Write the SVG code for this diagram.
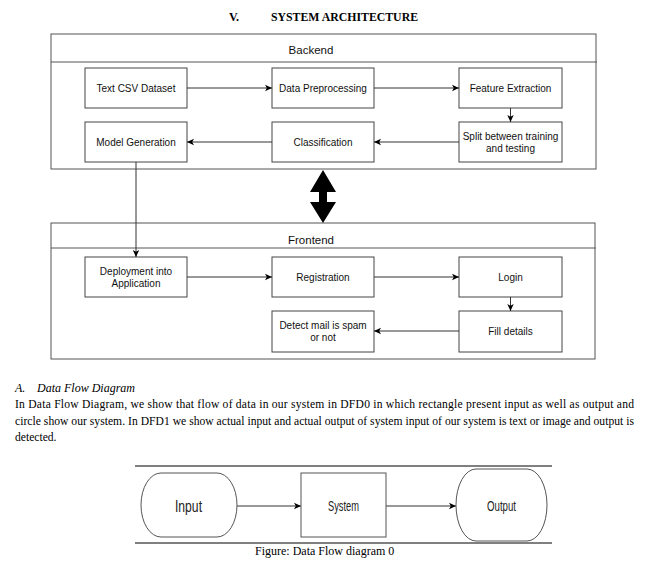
<svg xmlns="http://www.w3.org/2000/svg" width="648" height="566" viewBox="0 0 648 566">
<style>
.bg{fill:#fff}
.cont{fill:none;stroke:#555;stroke-width:1}
.node{fill:#fff;stroke:#444;stroke-width:1}
.lbl{font-family:"Liberation Sans",Arial,sans-serif;font-size:10px;fill:#111;text-anchor:middle}
.hdr{font-family:"Liberation Sans",Arial,sans-serif;font-size:11.5px;fill:#111;text-anchor:middle}
.edge{fill:none;stroke:#333;stroke-width:1}
.serif{font-family:"Liberation Serif","Times New Roman",serif;fill:#000}
.dfd{fill:#fff;stroke:#555;stroke-width:1}
.dlbl{font-family:"Liberation Sans",Arial,sans-serif;fill:#222;text-anchor:middle}
</style>
<defs>
<marker id="arr" markerUnits="userSpaceOnUse" markerWidth="8" markerHeight="8" refX="7" refY="4" orient="auto">
<path d="M0,0.8 L7,4 L0,7.2 L1.8,4 Z" fill="#000"/>
</marker>
</defs>
<rect class="bg" x="0" y="0" width="648" height="566"/>

<g id="title">
<text class="serif" x="229" y="21" font-size="12" font-weight="bold">V.</text>
<text class="serif" x="271" y="21" font-size="12" font-weight="bold" textLength="147" lengthAdjust="spacingAndGlyphs">SYSTEM ARCHITECTURE</text>
</g>

<g id="backend">
<rect class="cont" x="51" y="34" width="545" height="135"/>
<line class="cont" x1="51" y1="62" x2="597" y2="62"/>
<text class="hdr" x="311" y="54">Backend</text>
</g>

<g id="frontend">
<rect class="cont" x="51" y="223" width="544" height="136"/>
<line class="cont" x1="51" y1="248" x2="596" y2="248"/>
<text class="hdr" x="311" y="244">Frontend</text>
</g>

<g id="n-textcsv"><rect class="node" x="85" y="68" width="102" height="40"/><text class="lbl" x="136" y="91.5">Text CSV Dataset</text></g>
<g id="n-preproc"><rect class="node" x="272" y="68" width="102" height="40"/><text class="lbl" x="323" y="91.5">Data Preprocessing</text></g>
<g id="n-feature"><rect class="node" x="459" y="68" width="103" height="40"/><text class="lbl" x="510.5" y="91.5">Feature Extraction</text></g>
<g id="n-model"><rect class="node" x="85" y="122" width="102" height="40"/><text class="lbl" x="136" y="145.5">Model Generation</text></g>
<g id="n-class"><rect class="node" x="272" y="122" width="102" height="40"/><text class="lbl" x="323" y="145.5">Classification</text></g>
<g id="n-split"><rect class="node" x="459" y="122" width="103" height="40"/><text class="lbl" x="510.5" y="139.5">Split between training</text><text class="lbl" x="510.5" y="151.5">and testing</text></g>

<g id="n-deploy"><rect class="node" x="85" y="257" width="102" height="40"/><text class="lbl" x="136" y="274.5">Deployment into</text><text class="lbl" x="136" y="286.5">Application</text></g>
<g id="n-reg"><rect class="node" x="272" y="257" width="102" height="40"/><text class="lbl" x="323" y="280.5">Registration</text></g>
<g id="n-login"><rect class="node" x="459" y="257" width="103" height="40"/><text class="lbl" x="510.5" y="280.5">Login</text></g>
<g id="n-detect"><rect class="node" x="272" y="311" width="102" height="41"/><text class="lbl" x="323" y="328.5">Detect mail is spam</text><text class="lbl" x="323" y="340.5">or not</text></g>
<g id="n-fill"><rect class="node" x="459" y="311" width="103" height="41"/><text class="lbl" x="510.5" y="334.5">Fill details</text></g>

<g id="connectors">
<line class="edge" x1="187" y1="88" x2="272" y2="88" marker-end="url(#arr)"/>
<line class="edge" x1="374" y1="88" x2="459" y2="88" marker-end="url(#arr)"/>
<line class="edge" x1="510.5" y1="108" x2="510.5" y2="122" marker-end="url(#arr)"/>
<line class="edge" x1="459" y1="142" x2="374" y2="142" marker-end="url(#arr)"/>
<line class="edge" x1="272" y1="142" x2="187" y2="142" marker-end="url(#arr)"/>
<line class="edge" x1="136" y1="162" x2="136" y2="257" marker-end="url(#arr)"/>
<line class="edge" x1="187" y1="277" x2="272" y2="277" marker-end="url(#arr)"/>
<line class="edge" x1="374" y1="277" x2="459" y2="277" marker-end="url(#arr)"/>
<line class="edge" x1="510.5" y1="297" x2="510.5" y2="311" marker-end="url(#arr)"/>
<line class="edge" x1="459" y1="331" x2="374" y2="331" marker-end="url(#arr)"/>
<polygon points="323,170 336,192 327,192 327,202 336,202 323,223 310,202 319,202 319,192 310,192" fill="#000"/>
<line class="edge" x1="237" y1="506" x2="301" y2="506" marker-end="url(#arr)"/>
<line class="edge" x1="386" y1="506" x2="456" y2="506" marker-end="url(#arr)"/>
</g>

<g id="section">
<text class="serif" x="15" y="392" font-size="12" font-style="italic">A.</text>
<text class="serif" x="37" y="392" font-size="12" font-style="italic">Data Flow Diagram</text>
<text class="serif" x="15" y="408" font-size="11.6" textLength="619" lengthAdjust="spacing">In Data Flow Diagram, we show that flow of data in our system in DFD0 in which rectangle present input as well as output and</text>
<text class="serif" x="15" y="425" font-size="11.6" textLength="619" lengthAdjust="spacing">circle show our system. In DFD1 we show actual input and actual output of system input of our system is text or image and output is</text>
<text class="serif" x="15" y="441" font-size="11.6">detected.</text>
</g>

<g id="dfd0">
<line x1="135" y1="466" x2="552" y2="466" stroke="#000" stroke-width="1"/>
<line x1="135" y1="543" x2="552" y2="543" stroke="#000" stroke-width="1"/>
<g id="d-input"><rect class="dfd" x="141" y="473" width="96" height="64" rx="20" ry="32"/><text class="dlbl" x="188.5" y="512" font-size="17" textLength="27" lengthAdjust="spacingAndGlyphs">Input</text></g>
<g id="d-system"><rect class="dfd" x="301" y="473" width="85" height="64"/><text class="dlbl" x="343.5" y="511" font-size="15" textLength="31" lengthAdjust="spacingAndGlyphs">System</text></g>
<g id="d-output"><rect class="dfd" x="456" y="469" width="91" height="72" rx="20" ry="36"/><text class="dlbl" x="501.5" y="511" font-size="15" textLength="29" lengthAdjust="spacingAndGlyphs">Output</text></g>
<text class="serif" x="255" y="555" font-size="12">Figure: Data Flow diagram 0</text>
</g>
</svg>
